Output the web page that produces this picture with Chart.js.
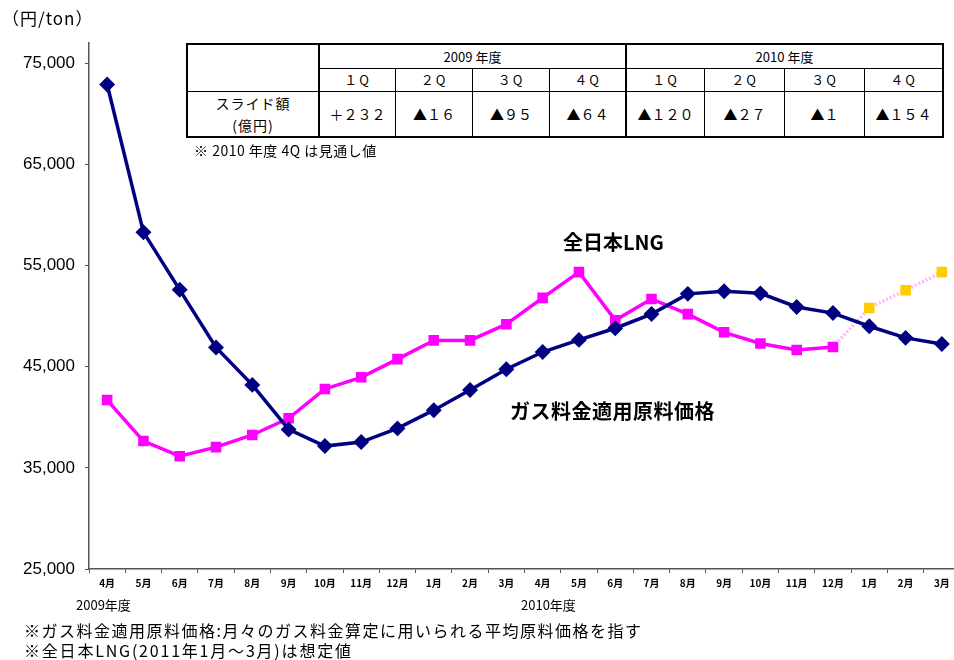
<!DOCTYPE html>
<html>
<head>
<meta charset="utf-8">
<script src="https://cdn.jsdelivr.net/npm/chart.js@4"></script>
<style>
  html, body { margin: 0; padding: 0; overflow: hidden; background: #fff; }
  body { width: 954px; height: 660px; position: relative; font-family: "Liberation Sans", "Noto Sans CJK JP", sans-serif; }
  #wrap { position: absolute; left: 0; top: 0; width: 969px; height: 660px; }
  .lbl { position: absolute; white-space: nowrap; color: #000; font-family: "Noto Sans CJK JP", sans-serif; }
  table.slide { position: absolute; left: 186px; top: 43px; border-collapse: collapse; font-family: "Noto Sans CJK JP", sans-serif; font-size: 13px; background: #fff; }
  table.slide td { border: 1px solid #000; text-align: center; padding: 0; }
  .thick { border-left: 2px solid #000 !important; }
</style>
</head>
<body>
<div id="wrap"><canvas id="chart" width="969" height="660" style="width:969px;height:660px;"></canvas></div>

<div class="lbl" style="left:2px;top:5px;font-size:17px;letter-spacing:1px;">（円/ton）</div>

<table class="slide" style="border:2px solid #000;">
  <tr style="height:24px;">
    <td rowspan="2" style="width:130px;"></td>
    <td colspan="4" class="thick">2009 年度</td>
    <td colspan="4" class="thick">2010 年度</td>
  </tr>
  <tr style="height:23px;letter-spacing:2px;">
    <td class="thick" style="width:75px;">１Q</td><td style="width:76px;">２Q</td><td style="width:76px;">３Q</td><td style="width:75px;">４Q</td>
    <td class="thick" style="width:77px;">１Q</td><td style="width:79px;">２Q</td><td style="width:79px;">３Q</td><td style="width:77px;">４Q</td>
  </tr>
  <tr style="height:46px;font-size:14px;">
    <td style="letter-spacing:1px;line-height:22px;">スライド額<br>(億円)</td>
    <td class="thick">＋２３２</td><td>▲１６</td><td>▲９５</td><td>▲６４</td>
    <td class="thick">▲１２０</td><td>▲２７</td><td>▲１</td><td>▲１５４</td>
  </tr>
</table>
<div class="lbl" style="left:194px;top:140px;font-size:14px;letter-spacing:0.5px;">※ 2010 年度 4Q は見通し値</div>

<div class="lbl" style="left:563px;top:227px;font-size:20px;font-weight:bold;">全日本LNG</div>
<div class="lbl" style="left:510px;top:396px;font-size:20px;font-weight:bold;letter-spacing:0.5px;">ガス料金適用原料価格</div>

<div class="lbl" style="left:76px;top:595px;font-size:13px;">2009年度</div>
<div class="lbl" style="left:521px;top:595px;font-size:13px;">2010年度</div>
<div class="lbl" style="left:24px;top:618px;font-size:16px;letter-spacing:1.5px;">※ガス料金適用原料価格:月々のガス料金算定に用いられる平均原料価格を指す</div>
<div class="lbl" style="left:24px;top:638px;font-size:16px;letter-spacing:1.8px;">※全日本LNG(2011年1月～3月)は想定値</div>

<script>
// months Apr 2009 - Mar 2011
const months = ['4月','5月','6月','7月','8月','9月','10月','11月','12月','1月','2月','3月',
                '4月','5月','6月','7月','8月','9月','10月','11月','12月','1月','2月','3月'];

// ガス料金適用原料価格 (円/ton)
const gasPrice = [72900, 58300, 52600, 46900, 43200, 38800, 37150, 37550, 38900, 40700, 42700, 44750,
                  46450, 47650, 48800, 50200, 52200, 52450, 52250, 50900, 50300, 49000, 47850, 47250];

// 全日本LNG (円/ton), last 3 are estimates
const lngPrice = [41700, 37650, 36150, 37050, 38250, 39900, 42800, 43950, 45750, 47600, 47600, 49200,
                  51800, 54350, 49600, 51700, 50200, 48400, 47300, 46650, 46950, 50800, 52550, 54350];
const estimateFrom = 21;

const yTicks = [25000, 35000, 45000, 55000, 65000, 75000];

const lngPointColors = lngPrice.map((v, i) => i >= estimateFrom ? '#ffcc00' : '#ff00ff');

new Chart(document.getElementById('chart').getContext('2d'), {
    type: 'line',
    data: {
        labels: months,
        datasets: [{
            label: 'ガス料金適用原料価格',
            data: gasPrice,
            borderColor: '#000080',
            backgroundColor: '#000080',
            borderWidth: 3.5,
            pointStyle: 'rectRot',
            pointRadius: 5.5,
            fill: false
        }, {
            label: '全日本LNG',
            data: lngPrice,
            borderColor: '#ff00ff',
            backgroundColor: lngPointColors,
            pointBorderColor: lngPointColors,
            borderWidth: 3.5,
            pointStyle: 'rect',
            pointRadius: 5,
            fill: false,
            segment: {
                borderColor: ctx => ctx.p0DataIndex >= estimateFrom - 1 ? '#ffb8ff' : undefined,
                borderDash: ctx => ctx.p0DataIndex >= estimateFrom - 1 ? [2, 2] : undefined
            }
        }]
    },
    options: {
        responsive: false,
        animation: false,
        layout: { padding: { left: 0, right: 0, top: 43, bottom: 0 } },
        plugins: {
            legend: { display: false },
            tooltip: { enabled: false }
        },
        scales: {
            x: {
                offset: true,
                grid: { display: true, offset: true, drawOnChartArea: false, color: '#555', tickLength: 4 },
                border: { color: '#555', width: 1.5 },
                ticks: { color: '#000', font: { size: 10, weight: 'bold', family: 'Noto Sans CJK JP' }, padding: 4, maxRotation: 0, autoSkip: false },
                afterFit: s => { s.height = 91; }
            },
            y: {
                min: 25000,
                max: 77000,
                grid: { display: true, drawOnChartArea: false, color: '#555', tickLength: 4 },
                border: { color: '#555', width: 1.5 },
                afterBuildTicks: s => { s.ticks = yTicks.map(v => ({ value: v })); },
                ticks: {
                    color: '#000',
                    font: { size: 17, family: 'Liberation Sans' },
                    padding: 10,
                    callback: v => v.toLocaleString('en-US')
                },
                afterFit: s => { s.width = 89; }
            }
        }
    }
});
</script>
</body>
</html>
